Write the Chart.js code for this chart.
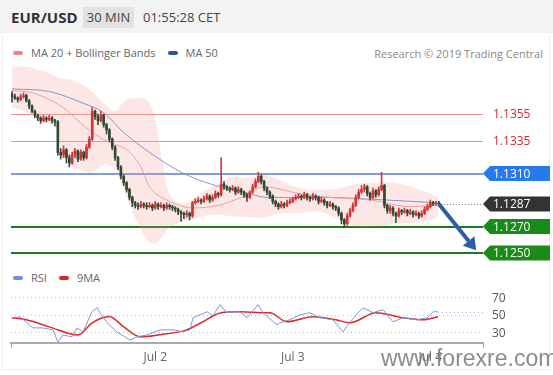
<!DOCTYPE html>
<html>
<head>
<meta charset="utf-8">
<script src="https://cdn.jsdelivr.net/npm/chart.js@4.4.1/dist/chart.umd.min.js"></script>
<style>
  body { margin: 0; width: 553px; height: 375px; background: #fff; font-family: 'Open Sans', sans-serif; position: relative; overflow: hidden; }
  .abs { position: absolute; white-space: nowrap; }
  #hdr { left: 0; top: 0; width: 553px; height: 33px; background: #f3f3f3; }
  #pair { left: 11px; top: 7px; font-size: 15px; font-weight: bold; color: #333; }
  #tf { left: 83px; top: 7px; width: 51px; height: 21px; line-height: 21px; background: #e2e2e2; text-align: center; font-size: 13px; color: #444; }
  #clock { left: 143px; top: 7px; line-height: 21px; font-size: 13px; color: #444; }
  .leg { font-size: 11px; color: #666; line-height: 14px; }
  .sw { display: inline-block; width: 10px; height: 4px; border-radius: 2px; vertical-align: middle; margin: 0 8px 2px 0; }
  #credit { right: 10px; top: 46px; font-size: 11px; color: #888; }
  #card { left: 2px; top: 36px; width: 546px; height: 333px; border: 1px solid #ececec; border-top: none; }
  #wm { left: 381px; top: 345px; font-family: 'Liberation Sans', sans-serif; font-size: 23px; color: rgba(120,120,120,0.85); }
  canvas { position: absolute; left: 0; }
</style>
</head>
<body>
<div class="abs" id="hdr"></div>
<div class="abs" id="card"></div>
<div class="abs" id="pair">EUR/USD</div>
<div class="abs" id="tf">30 MIN</div>
<div class="abs" id="clock">01:55:28 CET</div>
<div class="abs leg" style="left:13px; top:46px;"><span class="sw" style="background:#f08484"></span>MA 20 + Bollinger Bands<span class="sw" style="background:#2f5597; margin-left:12px"></span>MA 50</div>
<div class="abs" id="credit">Research © 2019 Trading Central</div>
<div class="abs leg" style="left:13px; top:271px;"><span class="sw" style="background:#6f8fd8"></span>RSI<span class="sw" style="background:#e02424; margin-left:12px"></span>9MA</div>
<canvas id="priceChart" width="553" height="206" style="top:60px"></canvas>
<canvas id="rsiChart" width="553" height="90" style="top:283px"></canvas>
<div class="abs" id="wm">www.forexre.com</div>
<script>
// 30 min candles, index 0 .. 149 (last one is Jul 4 01:30)
const firstOpen = 1.1370;
const closes = [
  1.1368, 1.1367, 1.1366, 1.1368, 1.1369, 1.1365, 1.1361, 1.1357, 1.1354, 1.1352,
  1.1350, 1.1352, 1.1351, 1.1352, 1.1350, 1.1349, 1.1326, 1.1324, 1.1328, 1.1322,
  1.1318, 1.1324, 1.1327, 1.1321, 1.1326, 1.1322, 1.1330, 1.1336, 1.1357, 1.1353,
  1.1350, 1.1354, 1.1347, 1.1343, 1.1336, 1.1330, 1.1322, 1.1315, 1.1308, 1.1303,
  1.1298, 1.1292, 1.1288, 1.1286, 1.1285, 1.1287, 1.1286, 1.1285, 1.1286, 1.1284,
  1.1287, 1.1285, 1.1286, 1.1284, 1.1286, 1.1285, 1.1284, 1.1283, 1.1281, 1.1280,
  1.1279, 1.1280, 1.1278, 1.1288, 1.1289, 1.1290, 1.1289, 1.1291, 1.1293, 1.1290,
  1.1292, 1.1295, 1.1294, 1.1302, 1.1300, 1.1299, 1.1298, 1.1299, 1.1296, 1.1298,
  1.1296, 1.1294, 1.1292, 1.1296, 1.1300, 1.1304, 1.1308, 1.1304, 1.1299, 1.1296,
  1.1293, 1.1289, 1.1287, 1.1285, 1.1287, 1.1286, 1.1288, 1.1289, 1.1291, 1.1292,
  1.1293, 1.1292, 1.1294, 1.1292, 1.1291, 1.1293, 1.1292, 1.1289, 1.1290, 1.1288,
  1.1286, 1.1287, 1.1285, 1.1284, 1.1280, 1.1275, 1.1272, 1.1278, 1.1282, 1.1286,
  1.1292, 1.1296, 1.1298, 1.1300, 1.1295, 1.1292, 1.1297, 1.1294, 1.1298, 1.1301,
  1.1286, 1.1282, 1.1284, 1.1280, 1.1278, 1.1282, 1.1281, 1.1282, 1.1280, 1.1281,
  1.1279, 1.1280, 1.1278, 1.1280, 1.1283, 1.1285, 1.1288, 1.1287, 1.1288, 1.1287
];
const highs = [
  1.1372, 1.1370, 1.1368, 1.1370, 1.1371, 1.1370, 1.1366, 1.1362, 1.1358, 1.1355,
  1.1353, 1.1354, 1.1353, 1.1354, 1.1353, 1.1351, 1.1350, 1.1329, 1.1331, 1.1329,
  1.1324, 1.1326, 1.1329, 1.1328, 1.1328, 1.1327, 1.1332, 1.1338, 1.1360, 1.1358,
  1.1355, 1.1357, 1.1355, 1.1348, 1.1344, 1.1337, 1.1331, 1.1323, 1.1316, 1.1309,
  1.1304, 1.1299, 1.1293, 1.1289, 1.1288, 1.1289, 1.1288, 1.1288, 1.1288, 1.1287,
  1.1289, 1.1288, 1.1288, 1.1287, 1.1288, 1.1287, 1.1286, 1.1285, 1.1284, 1.1282,
  1.1281, 1.1282, 1.1281, 1.1289, 1.1291, 1.1292, 1.1291, 1.1293, 1.1295, 1.1294,
  1.1294, 1.1297, 1.1296, 1.1322, 1.1304, 1.1301, 1.1300, 1.1301, 1.1300, 1.1300,
  1.1299, 1.1297, 1.1295, 1.1297, 1.1302, 1.1306, 1.1311, 1.1309, 1.1305, 1.1300,
  1.1297, 1.1294, 1.1290, 1.1288, 1.1289, 1.1288, 1.1290, 1.1291, 1.1292, 1.1294,
  1.1295, 1.1294, 1.1296, 1.1295, 1.1293, 1.1295, 1.1294, 1.1293, 1.1292, 1.1291,
  1.1289, 1.1289, 1.1288, 1.1286, 1.1285, 1.1281, 1.1276, 1.1280, 1.1284, 1.1288,
  1.1294, 1.1298, 1.1301, 1.1302, 1.1301, 1.1296, 1.1299, 1.1298, 1.1300, 1.1311,
  1.1302, 1.1287, 1.1286, 1.1285, 1.1281, 1.1284, 1.1283, 1.1284, 1.1283, 1.1283,
  1.1282, 1.1282, 1.1281, 1.1282, 1.1285, 1.1287, 1.1290, 1.1289, 1.1289, 1.1289
];
const lows = [
  1.1364, 1.1366, 1.1364, 1.1365, 1.1367, 1.1364, 1.1359, 1.1356, 1.1352, 1.1350,
  1.1348, 1.1349, 1.1349, 1.1350, 1.1348, 1.1346, 1.1324, 1.1321, 1.1322, 1.1318,
  1.1315, 1.1317, 1.1322, 1.1319, 1.1320, 1.1320, 1.1321, 1.1329, 1.1335, 1.1351,
  1.1347, 1.1349, 1.1345, 1.1340, 1.1334, 1.1328, 1.1320, 1.1313, 1.1306, 1.1301,
  1.1296, 1.1290, 1.1285, 1.1284, 1.1283, 1.1284, 1.1284, 1.1283, 1.1284, 1.1282,
  1.1283, 1.1283, 1.1284, 1.1282, 1.1283, 1.1283, 1.1282, 1.1281, 1.1279, 1.1274,
  1.1276, 1.1277, 1.1275, 1.1277, 1.1287, 1.1288, 1.1287, 1.1288, 1.1290, 1.1288,
  1.1289, 1.1291, 1.1292, 1.1293, 1.1298, 1.1297, 1.1296, 1.1297, 1.1294, 1.1295,
  1.1294, 1.1292, 1.1289, 1.1291, 1.1295, 1.1299, 1.1303, 1.1302, 1.1297, 1.1294,
  1.1291, 1.1287, 1.1285, 1.1283, 1.1284, 1.1284, 1.1285, 1.1287, 1.1288, 1.1290,
  1.1291, 1.1290, 1.1291, 1.1290, 1.1289, 1.1290, 1.1290, 1.1287, 1.1288, 1.1286,
  1.1284, 1.1285, 1.1283, 1.1282, 1.1278, 1.1272, 1.1269, 1.1271, 1.1277, 1.1281,
  1.1285, 1.1291, 1.1295, 1.1296, 1.1293, 1.1290, 1.1291, 1.1292, 1.1293, 1.1297,
  1.1284, 1.1280, 1.1280, 1.1278, 1.1273, 1.1277, 1.1279, 1.1280, 1.1278, 1.1279,
  1.1277, 1.1278, 1.1276, 1.1277, 1.1279, 1.1282, 1.1284, 1.1286, 1.1286, 1.1286
];
const opens = closes.map((c, i) => i === 0 ? firstOpen : closes[i - 1]);

// indicator lines at these candle positions
const ma50Index = [0, 13, 25, 32, 39, 48, 60, 71, 81, 89, 100, 111, 122, 131, 148];
const ma50 = [1.1374, 1.1372, 1.1363, 1.1356, 1.1341, 1.1326, 1.1310, 1.1301, 1.1296, 1.1292, 1.1292, 1.1292, 1.1291, 1.1290, 1.1288];
const ma20Index = [0, 7, 13, 19, 24, 31, 36, 40, 45, 48, 54, 60, 63, 72, 80, 88, 100, 111, 125, 139, 148];
const ma20 = [1.1373, 1.1371, 1.1366, 1.1358, 1.1348, 1.1337, 1.1332, 1.1328, 1.1315, 1.1300, 1.1290, 1.1285, 1.1284, 1.1286, 1.1292, 1.1300, 1.1295, 1.1292, 1.1290, 1.1285, 1.1286];
const bandIndex = [0, 4.5, 9.8, 15, 16.8, 20.2, 23.7, 27.9, 32.5, 36, 37.7, 40.1, 42.9, 45.4, 48.2, 50.6, 52.7, 55.1, 58.6, 62.1, 65.6, 70.9, 76.1, 83.1, 88.3, 93.5, 100.5, 107.5, 114.5, 119.7, 126.7, 133.7, 140.7, 145.9, 148.7];
const upperBand = [1.1390, 1.1391, 1.1388, 1.1384, 1.1382, 1.1381, 1.1378, 1.1372, 1.1362, 1.1357, 1.1361, 1.1366, 1.1367, 1.1367, 1.1363, 1.1343, 1.1317, 1.1294, 1.1288, 1.1289, 1.1295, 1.1301, 1.1307, 1.1307, 1.1309, 1.1305, 1.1299, 1.1298, 1.1299, 1.1302, 1.1303, 1.1303, 1.1299, 1.1295, 1.1292];
const lowerBand = [1.1360, 1.1357, 1.1351, 1.1345, 1.1332, 1.1317, 1.1313, 1.1311, 1.1317, 1.1313, 1.1305, 1.1292, 1.1277, 1.1266, 1.1258, 1.1258, 1.1263, 1.1269, 1.1273, 1.1275, 1.1277, 1.1279, 1.1278, 1.1277, 1.1277, 1.1280, 1.1280, 1.1281, 1.1275, 1.1270, 1.1270, 1.1272, 1.1273, 1.1275, 1.1277];

const rsiIndex = [0.3, 2.8, 5.2, 7.3, 10.8, 14.3, 16, 17.8, 20.9, 22.7, 24.8, 27.9, 29.7, 30.7, 33.2, 36.6, 41.2, 43.6, 47.1, 51.7, 56.2, 59.7, 62.1, 63.2, 68.1, 70.2, 72.6, 75, 79.6, 82, 85.9, 87.6, 92.5, 93.5, 97, 100.5, 104, 107.5, 112, 115.5, 118, 122.5, 126, 129.5, 133, 136.5, 141.4, 144.9, 147, 148.7];
const rsi = [46.6, 47.7, 40.9, 35.1, 35.1, 32.9, 19.1, 27.1, 24.9, 35.1, 30.6, 53.4, 58, 52.3, 40.9, 30.6, 21.4, 24.9, 27.1, 32.9, 32.9, 30.6, 32.9, 46.6, 53.4, 48.9, 61.4, 52.3, 53.4, 46.6, 61.4, 52.3, 38.6, 40.9, 44.3, 50, 52.3, 46.6, 44.3, 30.6, 42, 58, 52.3, 55.7, 42, 46.6, 44.3, 46.6, 53.4, 53.4];
const rsiMaIndex = [0, 5, 13, 23, 28, 34, 39, 45, 51, 61, 66, 73, 80, 87, 90, 96, 105, 113, 118, 127, 136.5, 143.5, 148.7];
const rsiMa = [46.6, 44.3, 36.3, 27.1, 40.9, 48, 36.3, 24.9, 27.1, 32.9, 40.9, 52.3, 53.4, 52.3, 52.3, 42, 47.7, 44.3, 40.9, 52.3, 46.6, 44.3, 47.7];

const tickIndex = [50, 98, 146];
const tickLabels = ['Jul 2', 'Jul 3', 'Jul 4'];
const levelValues = [1.1355, 1.1335, 1.1310, 1.1287, 1.1270, 1.1250];
const levelKinds = ['res', 'res', 'pivot', 'last', 'sup', 'sup'];
const rsiLevels = [70, 50, 30];
const arrowTarget = { x: 162, y: 1.1252 };

const xMin = -0.35, xMax = 164.4;

const levelStyle = {
  res:   { line: '#f29090', width: 1, text: '#d42a2a' },
  pivot: { line: '#7f9ed8', width: 2, tag: '#2878ee' },
  last:  { line: '#666', width: 1, tag: '#333333' },
  sup:   { line: '#1c7d1c', width: 2, tag: '#1a8a1a' }
};

const pts = (xs, ys) => xs.map((x, k) => ({ x: x, y: ys[k] }));

function tag(ctx, x, y, color, label) {
  const h = 15, w = 67;
  ctx.beginPath();
  ctx.moveTo(x, y);
  ctx.lineTo(x + 7, y - h / 2);
  ctx.lineTo(x + w, y - h / 2);
  ctx.lineTo(x + w, y + h / 2);
  ctx.lineTo(x + 7, y + h / 2);
  ctx.closePath();
  ctx.fillStyle = color;
  ctx.fill();
  ctx.fillStyle = '#fff';
  ctx.fillText(label, x + 10, y + 1);
}

const levelsPlugin = {
  id: 'levels',
  beforeDatasetsDraw(chart) {
    const { ctx, chartArea, scales } = chart;
    ctx.save();
    levelValues.forEach((v, k) => {
      const st = levelStyle[levelKinds[k]];
      if (levelKinds[k] === 'last') return;
      const y = Math.round(scales.y.getPixelForValue(v)) + (st.width === 1 ? 0.5 : 0);
      ctx.strokeStyle = st.line;
      ctx.lineWidth = st.width;
      ctx.beginPath();
      ctx.moveTo(chartArea.left, y);
      ctx.lineTo(chartArea.right, y);
      ctx.stroke();
    });
    ctx.restore();
  },
  afterDatasetsDraw(chart) {
    const { ctx, chartArea, scales } = chart;
    const last = closes.length - 1;
    ctx.save();
    // dotted line from the last candle
    const yl = Math.round(scales.y.getPixelForValue(closes[last])) + 0.5;
    ctx.strokeStyle = '#777';
    ctx.lineWidth = 1;
    ctx.setLineDash([1, 2]);
    ctx.beginPath();
    ctx.moveTo(scales.x.getPixelForValue(last) + 2, yl);
    ctx.lineTo(chartArea.right, yl);
    ctx.stroke();
    ctx.setLineDash([]);
    // arrow
    const x0 = scales.x.getPixelForValue(last), y0 = scales.y.getPixelForValue(closes[last]);
    const x1 = scales.x.getPixelForValue(arrowTarget.x), y1 = scales.y.getPixelForValue(arrowTarget.y);
    const ang = Math.atan2(y1 - y0, x1 - x0);
    const hx = x1 - 12 * Math.cos(ang), hy = y1 - 12 * Math.sin(ang);
    ctx.strokeStyle = '#2c5da6';
    ctx.fillStyle = '#2c5da6';
    ctx.lineWidth = 4;
    ctx.beginPath();
    ctx.moveTo(x0, y0);
    ctx.lineTo(hx, hy);
    ctx.stroke();
    ctx.beginPath();
    ctx.moveTo(x1, y1);
    ctx.lineTo(hx + 7.5 * Math.cos(ang + Math.PI / 2), hy + 7.5 * Math.sin(ang + Math.PI / 2));
    ctx.lineTo(hx + 7.5 * Math.cos(ang - Math.PI / 2), hy + 7.5 * Math.sin(ang - Math.PI / 2));
    ctx.closePath();
    ctx.fill();
    // right side labels
    ctx.font = '12px "Open Sans", sans-serif';
    ctx.textBaseline = 'middle';
    levelValues.forEach((v, k) => {
      const st = levelStyle[levelKinds[k]];
      const y = scales.y.getPixelForValue(v);
      const label = v.toFixed(4);
      if (st.tag) {
        tag(ctx, chartArea.right, y, st.tag, label);
      } else {
        ctx.fillStyle = st.text;
        ctx.fillText(label, chartArea.right + 10, y + 1);
      }
    });
    ctx.restore();
  }
};

new Chart(document.getElementById('priceChart'), {
  type: 'bar',
  data: {
    datasets: [
      { type: 'line', data: pts(bandIndex, upperBand), borderWidth: 0, pointRadius: 0, tension: 0.4, fill: '+1', backgroundColor: 'rgba(244,140,140,0.22)', order: 10 },
      { type: 'line', data: pts(bandIndex, lowerBand), borderWidth: 0, pointRadius: 0, tension: 0.4, fill: false, order: 10 },
      { type: 'line', data: pts(ma20Index, ma20), borderColor: '#eea0a0', borderWidth: 1, pointRadius: 0, cubicInterpolationMode: 'monotone', order: 5 },
      { type: 'line', data: pts(ma50Index, ma50), borderColor: '#8598c6', borderWidth: 1, pointRadius: 0, cubicInterpolationMode: 'monotone', order: 5 },
      {
        data: highs.map((h, i) => ({ x: i, y: [lows[i], h] })),
        backgroundColor: closes.map((c, i) => c >= opens[i] ? '#cf3a3a' : '#34503a'),
        barThickness: 1, grouped: false, order: 2
      },
      {
        data: closes.map((c, i) => ({ x: i, y: [opens[i], c] })),
        backgroundColor: closes.map((c, i) => c >= opens[i] ? '#d23434' : '#2f4a33'),
        barThickness: 2, minBarLength: 1, grouped: false, order: 1
      }
    ]
  },
  options: {
    responsive: false,
    animation: false,
    devicePixelRatio: 1,
    layout: { padding: { left: 11, right: 70, top: 4, bottom: 4 } },
    plugins: { legend: { display: false }, tooltip: { enabled: false } },
    scales: {
      x: { type: 'linear', min: xMin, max: xMax, offset: false, display: false },
      y: { min: 1.12432, max: 1.13928, display: false }
    }
  },
  plugins: [levelsPlugin]
});

const rsiPlugin = {
  id: 'rsiGuides',
  beforeDatasetsDraw(chart) {
    const { ctx, chartArea, scales } = chart;
    ctx.save();
    ctx.strokeStyle = '#c4c4c4';
    ctx.lineWidth = 1;
    ctx.setLineDash([1, 3]);
    rsiLevels.forEach(v => {
      const y = Math.round(scales.y.getPixelForValue(v)) + 0.5;
      ctx.beginPath();
      ctx.moveTo(chartArea.left, y);
      ctx.lineTo(chartArea.right, y);
      ctx.stroke();
    });
    const lastY = Math.round(scales.y.getPixelForValue(rsi[rsi.length - 1])) + 0.5;
    ctx.strokeStyle = '#a4b4dc';
    ctx.beginPath();
    ctx.moveTo(scales.x.getPixelForValue(rsiIndex[rsiIndex.length - 1]), lastY);
    ctx.lineTo(chartArea.right, lastY);
    ctx.stroke();
    ctx.restore();
  },
  afterDraw(chart) {
    const { ctx, chartArea, scales } = chart;
    ctx.save();
    ctx.font = '12px "Open Sans", sans-serif';
    ctx.fillStyle = '#555';
    ctx.textBaseline = 'middle';
    rsiLevels.forEach(v => ctx.fillText(String(v), chartArea.right + 9, scales.y.getPixelForValue(v) + 1));
    ctx.strokeStyle = '#aaa';
    ctx.lineWidth = 1;
    [chartArea.left, chartArea.right].forEach(x => {
      ctx.beginPath();
      ctx.moveTo(Math.round(x) + 0.5, chartArea.bottom);
      ctx.lineTo(Math.round(x) + 0.5, chartArea.bottom + 5);
      ctx.stroke();
    });
    ctx.restore();
  }
};

new Chart(document.getElementById('rsiChart'), {
  type: 'line',
  data: {
    datasets: [
      { data: pts(rsiIndex, rsi), borderColor: '#7a98dc', borderWidth: 1, pointRadius: 0, tension: 0 },
      { data: pts(rsiMaIndex, rsiMa), borderColor: '#e02828', borderWidth: 1.5, pointRadius: 0, cubicInterpolationMode: 'monotone' }
    ]
  },
  options: {
    responsive: false,
    animation: false,
    devicePixelRatio: 1,
    layout: { padding: { left: 11, right: 70, top: 3, bottom: 0 } },
    plugins: { legend: { display: false }, tooltip: { enabled: false } },
    scales: {
      x: {
        type: 'linear', min: xMin, max: xMax,
        afterBuildTicks: s => { s.ticks = tickIndex.map(v => ({ value: v })); },
        afterFit: s => { s.height = 30; },
        ticks: {
          autoSkip: false, maxRotation: 0, padding: 7, color: '#666',
          font: { family: 'Open Sans', size: 12 },
          callback: v => tickLabels[tickIndex.indexOf(v)]
        },
        grid: { drawOnChartArea: false, drawTicks: false },
        border: { color: '#aaa', width: 2 }
      },
      y: { min: 18, max: 82.6, display: false }
    }
  },
  plugins: [rsiPlugin]
});
</script>
</body>
</html>
